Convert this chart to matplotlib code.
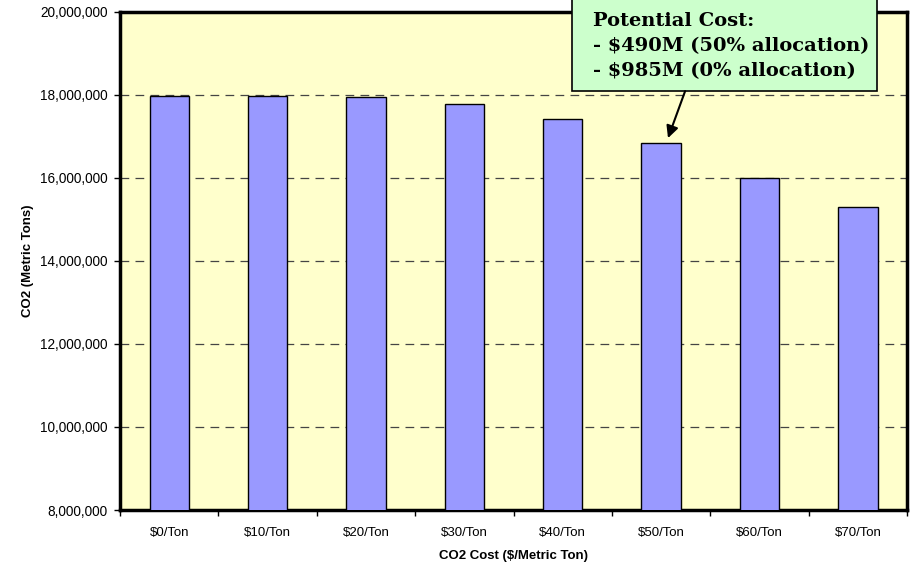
import matplotlib
matplotlib.use("Agg")
import matplotlib.pyplot as plt
from matplotlib.patches import Rectangle
from matplotlib.ticker import FuncFormatter, FixedLocator
import numpy as np

categories = ["$0/Ton", "$10/Ton", "$20/Ton", "$30/Ton",
              "$40/Ton", "$50/Ton", "$60/Ton", "$70/Ton"]
co2_tons = [17980000, 17970000, 17960000, 17780000,
            17430000, 16840000, 15990000, 15310000]
callout_lines = ["Potential Cost:",
                 "- $490M (50% allocation)",
                 "- $985M (0% allocation)"]
callout_bar = 5

plt.rcParams["font.family"] = ["Liberation Sans", "DejaVu Sans"]

fig = plt.figure(figsize=(9.12, 5.67), dpi=100)
ax = fig.add_axes([0.1316, 0.1005, 0.863, 0.8785])
ax.set_facecolor("#ffffcc")

x = np.arange(len(categories))
ax.bar(x, co2_tons, width=0.4, color="#9999ff", edgecolor="black",
       linewidth=1.0, zorder=3)

ax.set_xlim(-0.5, len(categories) - 0.5)
ax.set_ylim(8000000, 20000000)
ax.set_yticks(np.arange(8000000, 20000001, 2000000))
ax.yaxis.set_major_formatter(FuncFormatter(lambda v, p: f"{int(v):,}"))

# category labels centred under the bars, tick marks between categories
ax.set_xticks(x)
ax.set_xticklabels(categories)
ax.xaxis.set_minor_locator(FixedLocator(np.arange(-0.5, len(categories), 1.0)))
ax.tick_params(axis="x", which="major", length=0, pad=12, labelsize=9.5)
ax.tick_params(axis="x", which="minor", length=4, width=1, direction="out")
ax.tick_params(axis="y", length=4, width=1, direction="out", labelsize=9.8, pad=5)

for y in [10000000, 12000000, 14000000, 16000000, 18000000]:
    ax.axhline(y, color="#444444", linewidth=0.9, dashes=(7, 5), zorder=1)

for side in ["left", "bottom", "top", "right"]:
    ax.spines[side].set_linewidth(2.5)
    ax.spines[side].set_color("black")

ax.set_xlabel("CO2 Cost ($/Metric Ton)", fontsize=9.5, fontweight="bold", labelpad=8)
ax.set_ylabel("CO2 (Metric Tons)", fontsize=9.5, fontweight="bold", labelpad=4)

# callout box hanging over the top edge
box = Rectangle((0.574, 0.841), 0.388, 0.2, transform=ax.transAxes,
                facecolor="#ccffcc", edgecolor="black", linewidth=1.2,
                clip_on=False, zorder=5)
ax.add_patch(box)
ax.text(0.601, 0.932, "\n".join(callout_lines), transform=ax.transAxes,
        ha="left", va="center", fontsize=14, fontweight="bold",
        family=["DejaVu Serif"], linespacing=1.5,
        zorder=6, clip_on=False)

ax.annotate("", xy=(callout_bar + 0.07, co2_tons[callout_bar] + 120000),
            xycoords="data", xytext=(0.718, 0.841), textcoords="axes fraction",
            arrowprops=dict(arrowstyle="-|>", color="black", lw=1.5,
                            mutation_scale=18, shrinkA=0, shrinkB=0),
            zorder=6)

fig.savefig("out.png", dpi=100)
